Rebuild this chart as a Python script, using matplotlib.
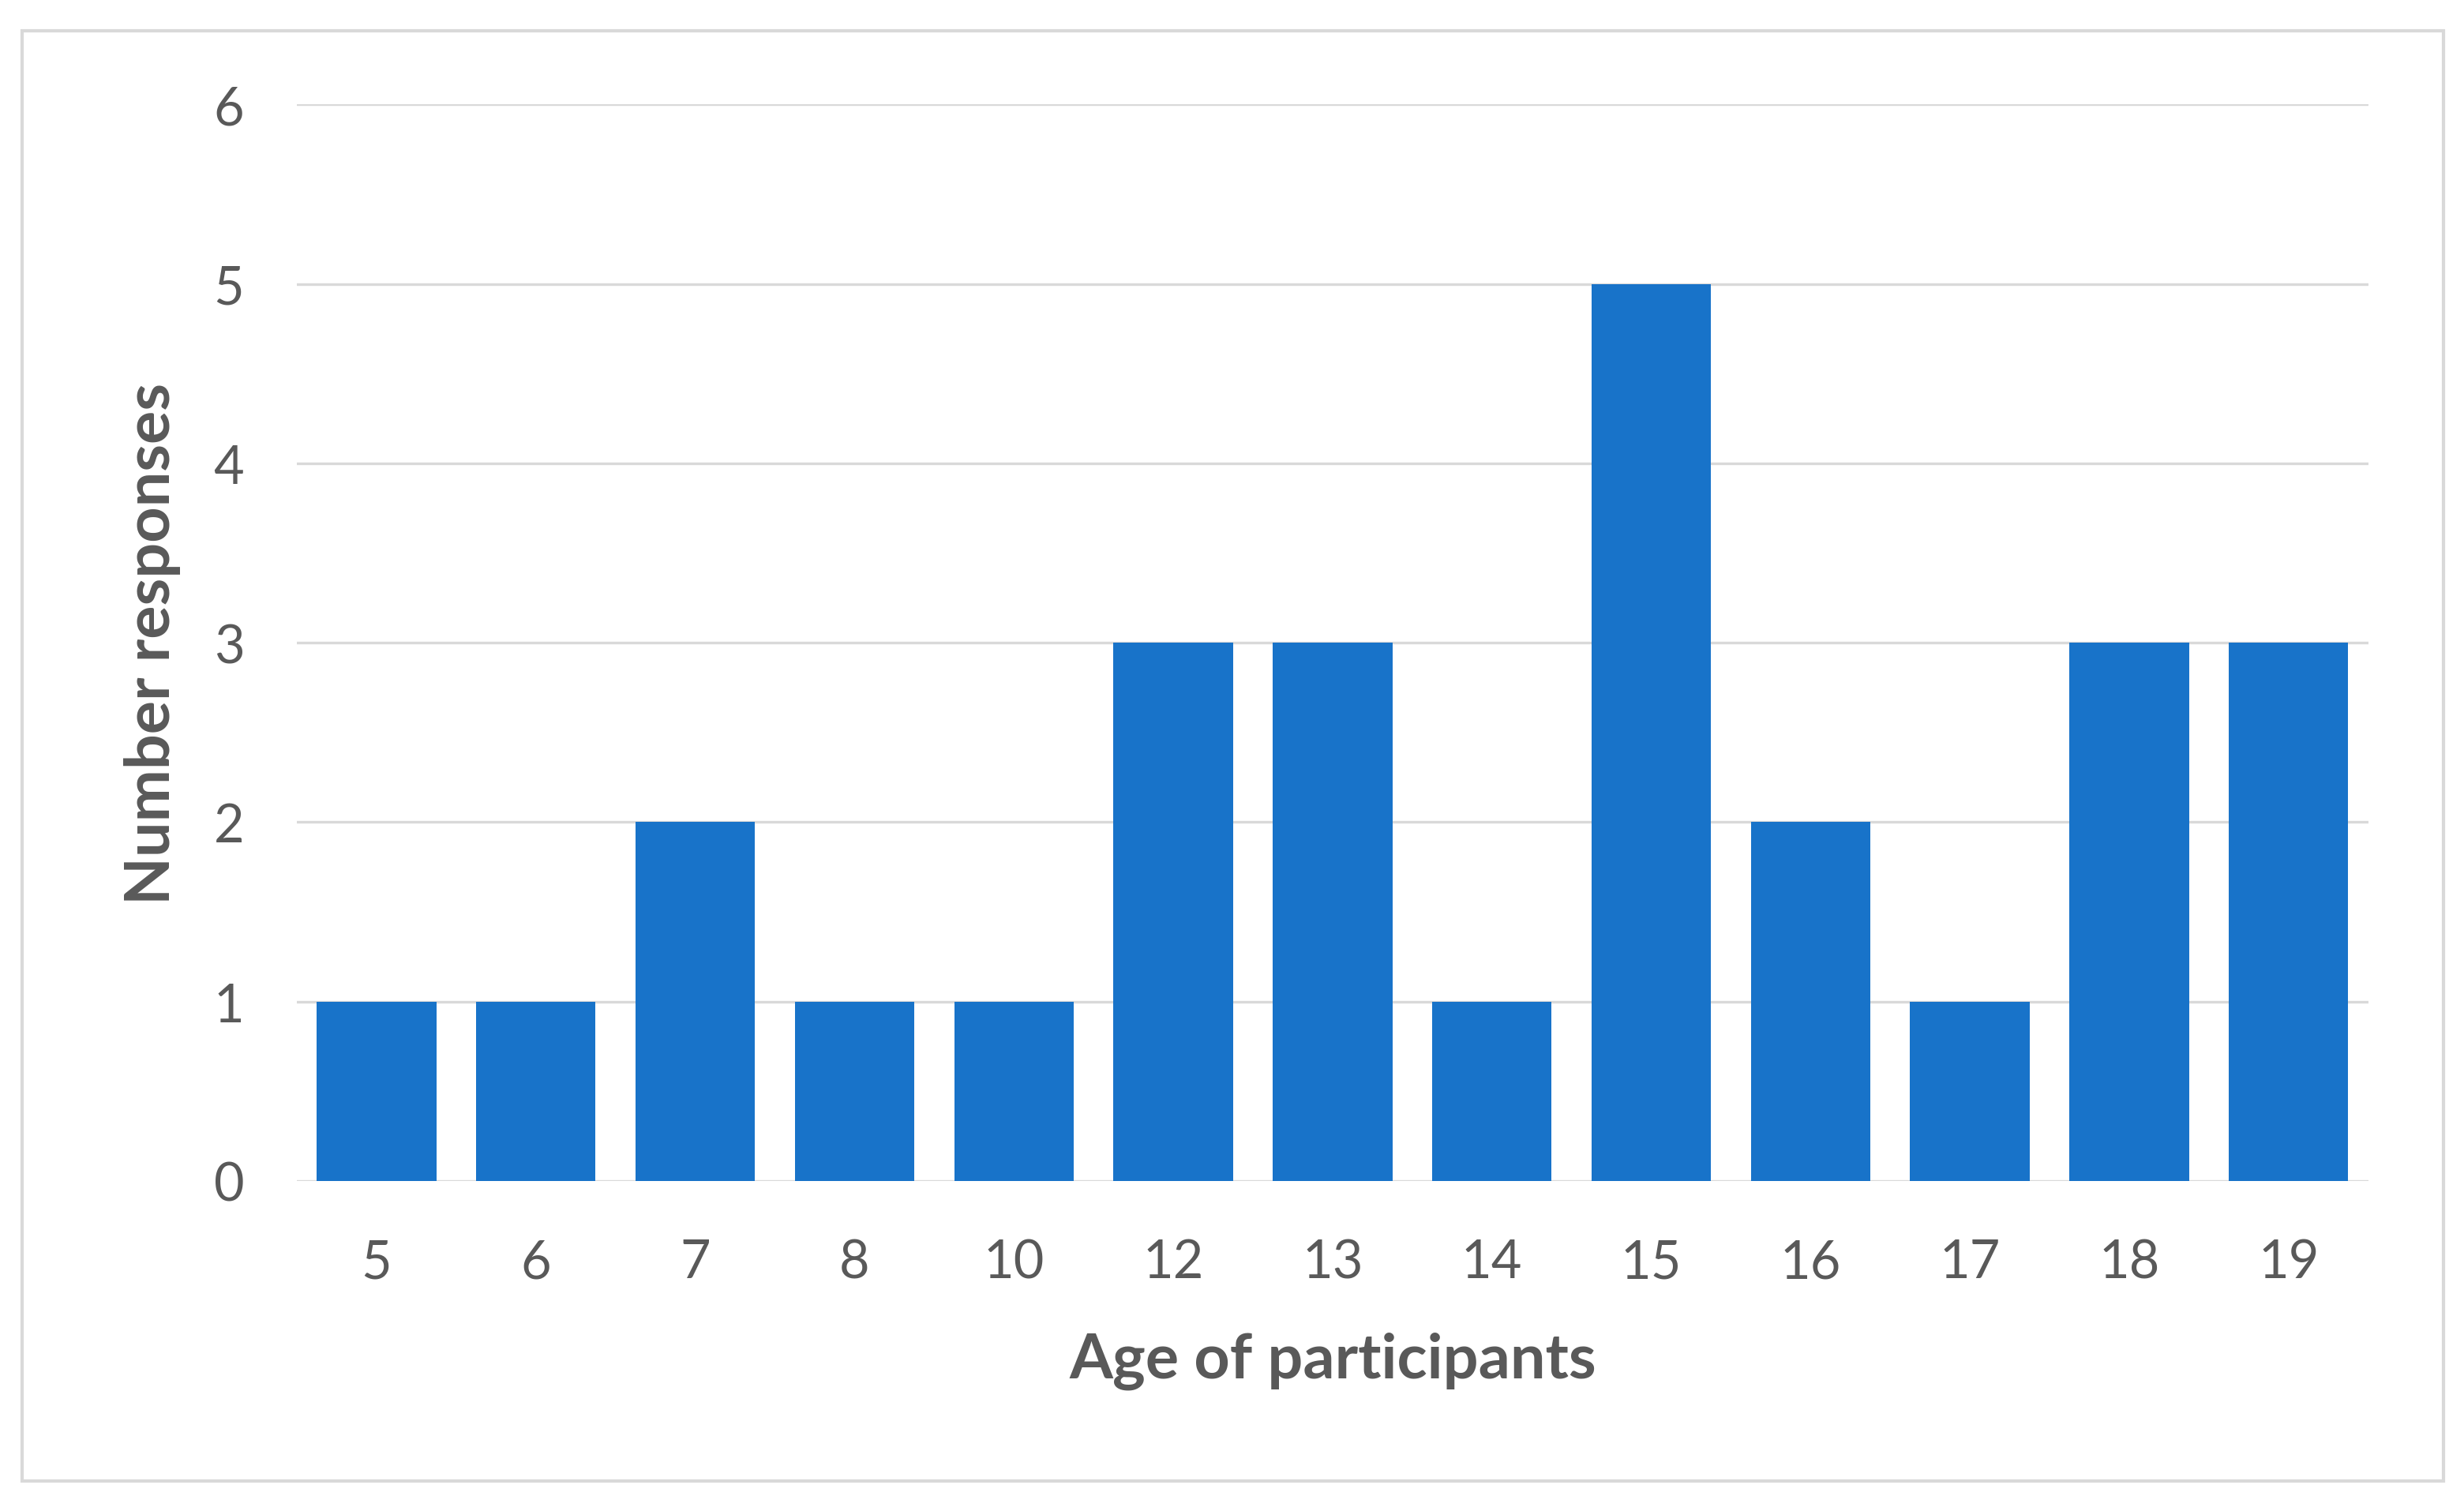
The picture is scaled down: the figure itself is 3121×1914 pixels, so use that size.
"""
Age distribution bar chart (Excel-like look).
"""

import matplotlib.pyplot as plt
import matplotlib.patches as mpatches
import numpy as np

ages = ["5", "6", "7", "8", "10", "12", "13", "14", "15", "16", "17", "18", "19"]
responses = [1, 1, 2, 1, 1, 3, 3, 1, 5, 2, 1, 3, 3]
y_ticks = [0, 1, 2, 3, 4, 5, 6]

_BAR = "#1873C9"
_TEXT = "#595959"
_GRID = "#D9D9D9"

plt.rcParams["font.family"] = ["Lato", "DejaVu Sans"]

fig = plt.figure(figsize=(31.21, 19.15), dpi=100)
ax = fig.add_axes([0.1205, 0.2183, 0.8406, 0.7121])

x = np.arange(len(ages))
ax.bar(x, responses, width=0.75, color=_BAR, zorder=2)

ax.set_xlim(-0.5, len(ages) - 0.5)
ax.set_ylim(0, 6)
ax.set_yticks(y_ticks)
ax.set_xticks(x)
ax.set_xticklabels(ages)

ax.grid(True, axis="y", color=_GRID, linewidth=2.4, zorder=0)
ax.set_axisbelow(True)
for s in ax.spines.values():
    s.set_visible(False)
ax.tick_params(axis="both", length=0, labelsize=48, labelcolor=_TEXT)
ax.tick_params(axis="y", pad=48)
ax.tick_params(axis="x", pad=52)

ax.set_xlabel("Age of participants", fontsize=57, fontweight="bold",
              color=_TEXT)
ax.set_ylabel("Number responses", fontsize=57, fontweight="bold",
              color=_TEXT)
ax.xaxis.set_label_coords(0.5, -0.1664)
ax.xaxis.label.set_va("center")
ax.yaxis.set_label_coords(-0.0698, 0.5)
ax.yaxis.label.set_va("center")

# chart-area border like an Excel chart object
border = mpatches.Rectangle((0.0089, 0.0198), 0.9828, 0.9592,
                            transform=fig.transFigure, fill=False,
                            edgecolor=_GRID, linewidth=3)
fig.patches.append(border)

plt.savefig("out.png", dpi=100)
plt.close(fig)
